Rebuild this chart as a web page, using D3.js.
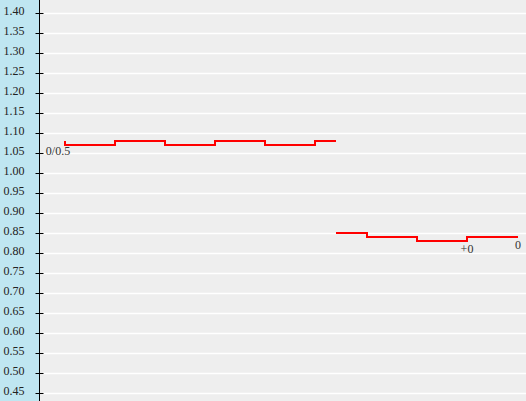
<!DOCTYPE html>
<html>
<head>
<meta charset="utf-8">
<script src="https://cdn.jsdelivr.net/npm/d3@7"></script>
<style>
  body { margin: 0; background: #eeeeee; }
  svg { display: block; }
  .tick text { font-family: "Liberation Serif", "DejaVu Serif", serif; font-size: 12px; fill: #222; }
  .note { font-family: "Liberation Serif", "DejaVu Serif", serif; font-size: 12px; fill: #333; }
</style>
</head>
<body>
<svg id="chart"></svg>
<script>
/* global d3 */

// y ticks shown on the left axis
const yTicks = [0.45, 0.50, 0.55, 0.60, 0.65, 0.70, 0.75, 0.80, 0.85, 0.90, 0.95,
  1.00, 1.05, 1.10, 1.15, 1.20, 1.25, 1.30, 1.35, 1.40];

// first step series (time unit, value)
const seg1Time = [0, 0, 1, 2, 3, 4, 5, 5.42];
const seg1Value = [1.08, 1.07, 1.08, 1.07, 1.08, 1.07, 1.08, 1.08];

// second step series
const seg2Time = [5.42, 6.04, 7.04, 8.04, 9.06];
const seg2Value = [0.85, 0.84, 0.83, 0.84, 0.84];

// small text notes under the line
const noteText = ['0/0.5', '+0', '0'];
const noteTime = [0, 8.04, 9.06];
const noteValue = [1.07, 0.83, 0.84];

const width = 526;
const height = 401;
const axisX = 39.5;

const svg = d3.select('#chart')
  .attr('width', width)
  .attr('height', height);

const x = d3.scaleLinear()
  .domain([0, 1])
  .range([65, 115]);

const y = d3.scaleLinear()
  .domain([0.45, 1.40])
  .range([393, 13]);

// plot background
svg.append('rect')
  .attr('width', width)
  .attr('height', height)
  .attr('fill', '#eeeeee');

// axis panel
svg.append('rect')
  .attr('width', axisX)
  .attr('height', height)
  .attr('fill', '#bfe6f1');

// grid lines
svg.append('g')
  .selectAll('line')
  .data(yTicks)
  .enter().append('line')
    .attr('x1', 43)
    .attr('x2', width)
    .attr('y1', d => Math.round(y(d)) + 0.5)
    .attr('y2', d => Math.round(y(d)) + 0.5)
    .style('stroke', '#ffffff')
    .style('stroke-width', 1.5);

const yAxis = d3.axisLeft(y)
  .tickValues(yTicks)
  .tickFormat(d3.format('.2f'))
  .tickSize(4)
  .tickPadding(11);

const gy = svg.append('g')
  .attr('class', 'y axis')
  .attr('transform', `translate(${axisX},0)`)
  .call(yAxis);

gy.select('.domain').remove();
gy.selectAll('.tick line')
  .attr('x1', -4)
  .attr('x2', 4)
  .style('stroke', '#000');
gy.selectAll('.tick text').attr('dy', '0.1em');

svg.append('line')
  .attr('x1', axisX)
  .attr('x2', axisX)
  .attr('y1', 0)
  .attr('y2', height)
  .style('stroke', '#000')
  .style('stroke-width', 1);

// notes (drawn under the line)
const notes = noteText.map((t, i) => ({ t, time: noteTime[i], v: noteValue[i] }));
svg.append('g')
  .selectAll('text')
  .data(notes)
  .enter().append('text')
    .attr('class', 'note')
    .attr('x', d => x(d.time) + (d.t === '0/0.5' ? -7 : 0))
    .attr('y', d => y(d.v) + (d.t === '0/0.5' ? 10 : 12))
    .attr('text-anchor', 'middle')
    .text(d => d.t);

const line = d3.line()
  .x(d => x(d.t))
  .y(d => y(d.v))
  .curve(d3.curveStepAfter);

const series = [
  seg1Time.map((t, i) => ({ t, v: seg1Value[i] })),
  seg2Time.map((t, i) => ({ t, v: seg2Value[i] })),
];

svg.append('g')
  .selectAll('path')
  .data(series)
  .enter().append('path')
    .attr('d', line)
    .style('fill', 'none')
    .style('stroke', '#ff0000')
    .style('stroke-width', 2);
</script>
</body>
</html>
